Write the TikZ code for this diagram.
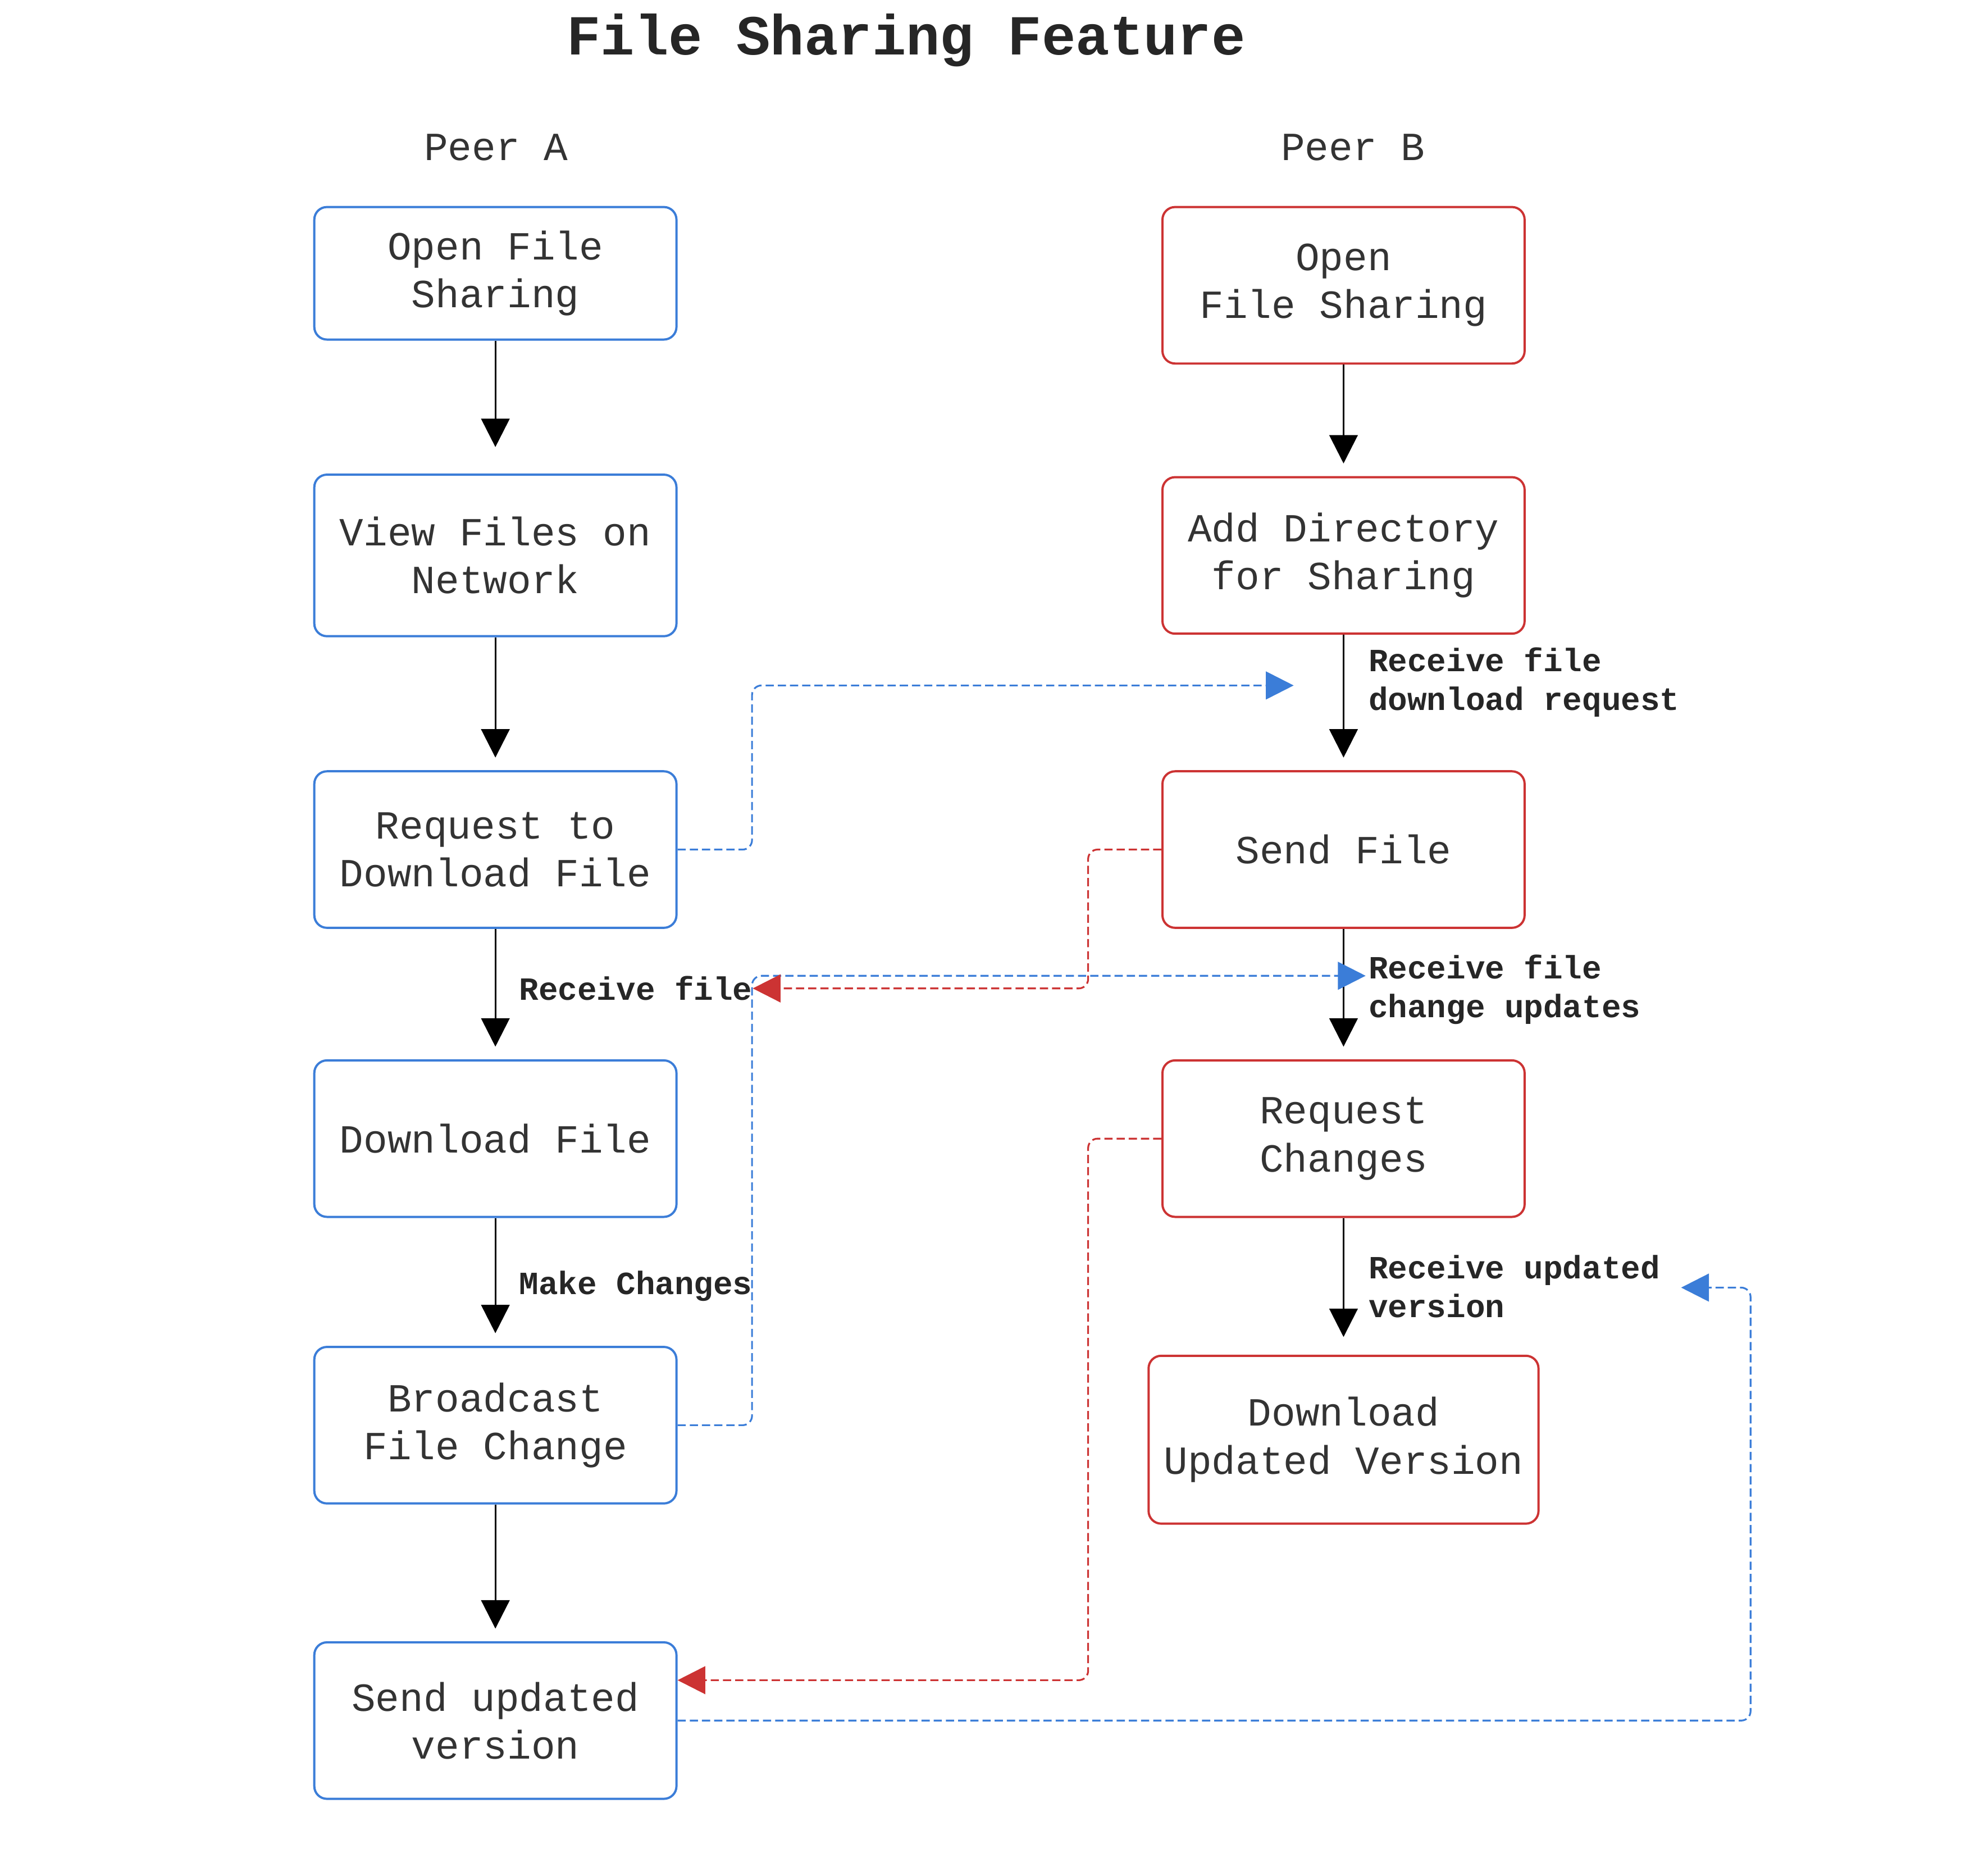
\documentclass[tikz,border=0pt]{standalone}
\usepackage{fontspec}
\setmonofont{Liberation Mono}
\usetikzlibrary{arrows.meta}
\definecolor{peerA}{RGB}{59,125,216}
\definecolor{peerB}{RGB}{204,51,51}
\definecolor{txt}{RGB}{51,51,51}
\begin{document}
\begin{tikzpicture}[x=0.02cm,y=-0.02cm,
 box/.style={draw,rounded corners=0.2cm,line width=1pt,minimum width=5.74cm,minimum height=2.48cm,inner sep=0pt,align=center,text=txt,font=\ttfamily\fontsize{18}{21.6}\selectfont},
 boxA/.style={box,draw=peerA},
 boxB/.style={box,draw=peerB},
 flow/.style={-{Triangle[length=0.45cm,width=0.45cm]},line width=0.8pt,shorten >=0.2cm},
 lbl/.style={anchor=west,align=left,inner sep=0pt,text=black!85,font=\ttfamily\bfseries\fontsize{14.6}{17.6}\selectfont},
 dashA/.style={draw=peerA,line width=0.8pt,dash pattern=on 3.7pt off 1.8pt,rounded corners=0.15cm,-{Triangle[length=0.44cm,width=0.44cm]}},
 dashB/.style={dashA,draw=peerB}]
\useasboundingbox(0,0)rectangle(1568,1486);
%
\node[font=\ttfamily\bfseries\fontsize{25.5}{30}\selectfont,text=black!85](title)at(718,32){File Sharing Feature};
\node[font=\ttfamily\fontsize{18}{21.6}\selectfont,text=txt](peerA)at(393,117){Peer A};
\node[font=\ttfamily\fontsize{18}{21.6}\selectfont,text=txt](peerB)at(1072,117){Peer B};
%
\node[boxA,minimum height=2.1cm](openA)at(392.5,216.5){Open File\\Sharing};
\node[boxA,minimum height=2.56cm](viewA)at(392.5,440){View Files on\\Network};
\node[boxA](reqA)at(392.5,673){Request to\\Download File};
\node[boxA](downA)at(392.5,902){Download File};
\node[boxA](castA)at(392.5,1129){Broadcast\\File Change};
\node[boxA](sendA)at(392.5,1363){Send updated\\version};
%
\node[boxB](openB)at(1064.5,226){Open\\File Sharing};
\node[boxB](dirB)at(1064.5,440){Add Directory\\for Sharing};
\node[boxB](sendB)at(1064.5,673){Send File};
\node[boxB](reqB)at(1064.5,902){Request\\Changes};
\node[boxB,minimum width=6.18cm,minimum height=2.66cm](downB)at(1064.5,1140.5){Download\\Updated Version};
%
\draw[flow,shorten >=0.42cm](openA)--(viewA);
\draw[flow](viewA)--(reqA);
\draw[flow](reqA)--(downA);
\draw[flow](downA)--(castA);
\draw[flow](castA)--(sendA);
\draw[flow](openB)--(dirB);
\draw[flow](dirB)--(sendB);
\draw[flow](sendB)--(reqB);
\draw[flow,shorten >=0.28cm](reqB)--(downB);
%
\node[lbl](lblDirB)at(1084,540.5){Receive file\\download request};
\node[lbl](lblReqA)at(411,783){Receive file};
\node[lbl](lblSendB)at(1084,784){Receive file\\change updates};
\node[lbl](lblDownA)at(411,1019){Make Changes};
\node[lbl](lblReqB)at(1084,1019){Receive updated\\version};
%
\coordinate(tipReq)at(1025,543);
\coordinate(tipCast)at(1082,773);
\coordinate(tipSend)at(1332,1020);
\coordinate(turnSend)at(1387,1020);
\draw[dashA](reqA.east)--++(59,0)|-(tipReq);
\draw[dashA](castA.east)--++(59,0)|-(tipCast);
\draw[dashB](sendB.west)--++(-58,0)|-(lblReqA.east);
\draw[dashB](reqB.west)--++(-58,0)|-([yshift=0.64cm]sendA.east);
\draw[dashA](sendA.east)-|(turnSend)--(tipSend);
\end{tikzpicture}
\end{document}
